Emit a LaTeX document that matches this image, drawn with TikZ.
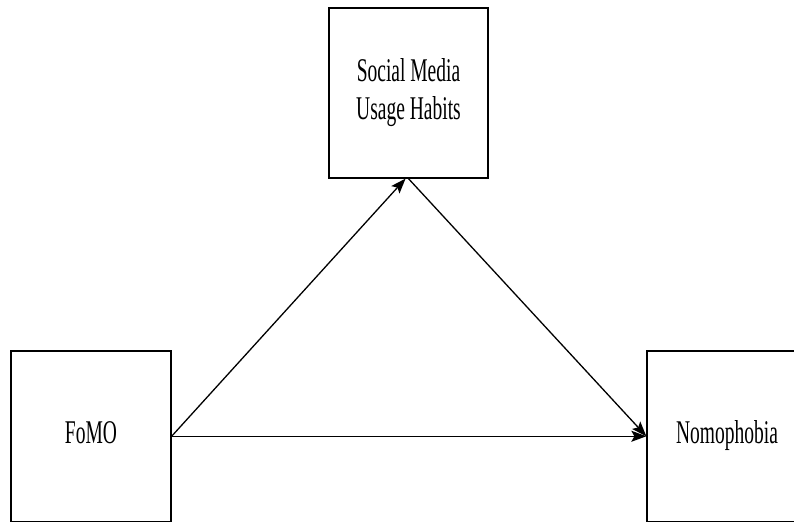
\documentclass[tikz,border=0pt]{standalone}
\usepackage{fontspec}
\setmainfont{Liberation Serif}
\usetikzlibrary{arrows.meta}
\tikzset{
  box/.style={draw=black, line width=1.3pt, rectangle, inner sep=0pt, fill=white,
    font=\fontsize{19.5}{22}\selectfont, align=center},
  conn/.style={line width=1.3pt, -{Stealth[length=15pt,width=11pt,inset=3pt]}}
}
\newcommand{\tallt}[1]{\scalebox{1}[1.7]{\begin{tabular}{@{}c@{}}#1\end{tabular}}}
\begin{document}
\begin{tikzpicture}[x=1pt,y=-1pt]
\path[use as bounding box] (0,0) rectangle (794,523);
\clip (0,0) rectangle (794,523);
\node[box, minimum width=159pt, minimum height=170pt] (sm) at (408.5,93) {\tallt{Social Media\\Usage Habits}};
\node[box, minimum width=160pt, minimum height=170.5pt] (fomo) at (91,436.25) {\tallt{FoMO}};
\node[box, minimum width=153pt, minimum height=170.5pt] (nomo) at (723.5,436.25) {\tallt{\hspace*{7pt}Nomophobia}};
\draw[conn] (fomo.east) -- ([xshift=-3pt]sm.south);
\draw[conn] (sm.south) -- (nomo.west);
\draw[conn] (fomo.east) -- (nomo.west);
\end{tikzpicture}
\end{document}
